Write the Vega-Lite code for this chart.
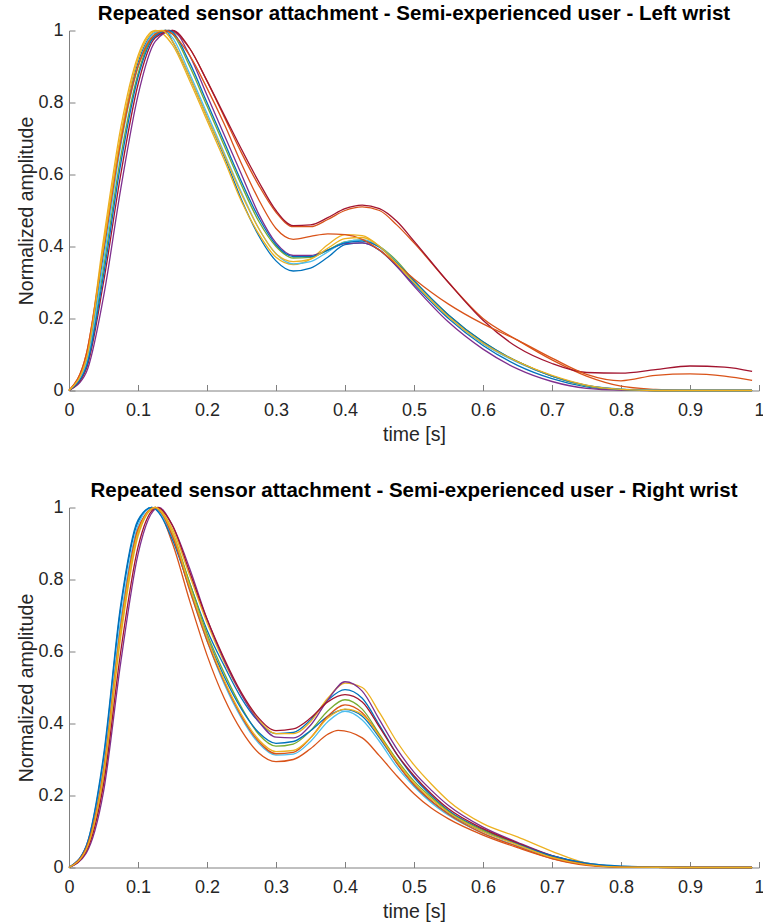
{
"$schema":"https://vega.github.io/schema/vega-lite/v6.json",
"background":"white",
"padding":{"left":16,"top":3.5,"right":0,"bottom":0},
"config":{
"view":{"stroke":null},
"axis":{"domainColor":"#808080","tickColor":"#808080","labelColor":"#262626","titleColor":"#262626","labelFont":"Liberation Sans","titleFont":"Liberation Sans","labelFontSize":18,"titleFontSize":19.5,"titleFontWeight":"normal","grid":false,"tickSize":-6,"domainWidth":1,"tickWidth":1,"labelFlush":false,"labelOverlap":false,"labelBound":false},
"title":{"font":"Liberation Sans","fontSize":20.5,"fontWeight":"bold","color":"#000000","anchor":"middle","frame":"group","baseline":"alphabetic","offset":-3},
"line":{"interpolate":"monotone","strokeWidth":1.3}
},
"datasets":{
"left":[
{"s":1,"t":0,"a":0},{"s":1,"t":0.025,"a":0.08},{"s":1,"t":0.05,"a":0.38},{"s":1,"t":0.075,"a":0.7},{"s":1,"t":0.1,"a":0.91},{"s":1,"t":0.125,"a":0.995},{"s":1,"t":0.14,"a":1},{"s":1,"t":0.15,"a":0.97},{"s":1,"t":0.175,"a":0.87},{"s":1,"t":0.2,"a":0.76},{"s":1,"t":0.225,"a":0.65},{"s":1,"t":0.25,"a":0.53},{"s":1,"t":0.275,"a":0.43},{"s":1,"t":0.3,"a":0.36},{"s":1,"t":0.325,"a":0.332},{"s":1,"t":0.35,"a":0.34},{"s":1,"t":0.375,"a":0.37},{"s":1,"t":0.4,"a":0.405},{"s":1,"t":0.425,"a":0.41},{"s":1,"t":0.45,"a":0.39},{"s":1,"t":0.475,"a":0.345},{"s":1,"t":0.5,"a":0.295},{"s":1,"t":0.55,"a":0.2},{"s":1,"t":0.6,"a":0.125},{"s":1,"t":0.65,"a":0.07},{"s":1,"t":0.7,"a":0.033},{"s":1,"t":0.75,"a":0.01},{"s":1,"t":0.8,"a":0.002},{"s":1,"t":0.85,"a":0},{"s":1,"t":0.9,"a":0},{"s":1,"t":0.95,"a":0},{"s":1,"t":0.99,"a":0},
{"s":2,"t":0,"a":0},{"s":2,"t":0.025,"a":0.1},{"s":2,"t":0.05,"a":0.4},{"s":2,"t":0.075,"a":0.7},{"s":2,"t":0.1,"a":0.9},{"s":2,"t":0.125,"a":0.985},{"s":2,"t":0.145,"a":1},{"s":2,"t":0.175,"a":0.95},{"s":2,"t":0.2,"a":0.86},{"s":2,"t":0.225,"a":0.76},{"s":2,"t":0.25,"a":0.66},{"s":2,"t":0.275,"a":0.57},{"s":2,"t":0.3,"a":0.495},{"s":2,"t":0.325,"a":0.455},{"s":2,"t":0.35,"a":0.455},{"s":2,"t":0.375,"a":0.475},{"s":2,"t":0.4,"a":0.5},{"s":2,"t":0.425,"a":0.51},{"s":2,"t":0.45,"a":0.5},{"s":2,"t":0.475,"a":0.46},{"s":2,"t":0.5,"a":0.41},{"s":2,"t":0.55,"a":0.3},{"s":2,"t":0.6,"a":0.2},{"s":2,"t":0.65,"a":0.14},{"s":2,"t":0.7,"a":0.085},{"s":2,"t":0.75,"a":0.04},{"s":2,"t":0.8,"a":0.012},{"s":2,"t":0.85,"a":0.003},{"s":2,"t":0.9,"a":0},{"s":2,"t":0.95,"a":0},{"s":2,"t":0.99,"a":0},
{"s":3,"t":0,"a":0},{"s":3,"t":0.025,"a":0.09},{"s":3,"t":0.05,"a":0.42},{"s":3,"t":0.075,"a":0.73},{"s":3,"t":0.1,"a":0.93},{"s":3,"t":0.125,"a":1},{"s":3,"t":0.15,"a":0.96},{"s":3,"t":0.175,"a":0.86},{"s":3,"t":0.2,"a":0.75},{"s":3,"t":0.225,"a":0.64},{"s":3,"t":0.25,"a":0.525},{"s":3,"t":0.275,"a":0.435},{"s":3,"t":0.3,"a":0.37},{"s":3,"t":0.325,"a":0.35},{"s":3,"t":0.35,"a":0.365},{"s":3,"t":0.375,"a":0.405},{"s":3,"t":0.4,"a":0.433},{"s":3,"t":0.425,"a":0.43},{"s":3,"t":0.45,"a":0.4},{"s":3,"t":0.475,"a":0.35},{"s":3,"t":0.5,"a":0.3},{"s":3,"t":0.55,"a":0.205},{"s":3,"t":0.6,"a":0.13},{"s":3,"t":0.65,"a":0.08},{"s":3,"t":0.7,"a":0.04},{"s":3,"t":0.75,"a":0.013},{"s":3,"t":0.8,"a":0.002},{"s":3,"t":0.85,"a":0},{"s":3,"t":0.9,"a":0},{"s":3,"t":0.95,"a":0},{"s":3,"t":0.99,"a":0},
{"s":4,"t":0,"a":0},{"s":4,"t":0.025,"a":0.05},{"s":4,"t":0.05,"a":0.26},{"s":4,"t":0.075,"a":0.56},{"s":4,"t":0.1,"a":0.82},{"s":4,"t":0.125,"a":0.97},{"s":4,"t":0.15,"a":1},{"s":4,"t":0.175,"a":0.93},{"s":4,"t":0.2,"a":0.82},{"s":4,"t":0.225,"a":0.71},{"s":4,"t":0.25,"a":0.6},{"s":4,"t":0.275,"a":0.49},{"s":4,"t":0.3,"a":0.41},{"s":4,"t":0.325,"a":0.375},{"s":4,"t":0.35,"a":0.375},{"s":4,"t":0.375,"a":0.39},{"s":4,"t":0.4,"a":0.408},{"s":4,"t":0.425,"a":0.41},{"s":4,"t":0.45,"a":0.39},{"s":4,"t":0.475,"a":0.345},{"s":4,"t":0.5,"a":0.29},{"s":4,"t":0.55,"a":0.19},{"s":4,"t":0.6,"a":0.115},{"s":4,"t":0.65,"a":0.06},{"s":4,"t":0.7,"a":0.025},{"s":4,"t":0.75,"a":0.006},{"s":4,"t":0.8,"a":0.001},{"s":4,"t":0.85,"a":0},{"s":4,"t":0.9,"a":0},{"s":4,"t":0.95,"a":0},{"s":4,"t":0.99,"a":0},
{"s":5,"t":0,"a":0},{"s":5,"t":0.025,"a":0.07},{"s":5,"t":0.05,"a":0.34},{"s":5,"t":0.075,"a":0.65},{"s":5,"t":0.1,"a":0.88},{"s":5,"t":0.125,"a":0.99},{"s":5,"t":0.14,"a":1},{"s":5,"t":0.15,"a":0.99},{"s":5,"t":0.175,"a":0.9},{"s":5,"t":0.2,"a":0.79},{"s":5,"t":0.225,"a":0.68},{"s":5,"t":0.25,"a":0.57},{"s":5,"t":0.275,"a":0.47},{"s":5,"t":0.3,"a":0.4},{"s":5,"t":0.325,"a":0.368},{"s":5,"t":0.35,"a":0.37},{"s":5,"t":0.375,"a":0.39},{"s":5,"t":0.4,"a":0.413},{"s":5,"t":0.425,"a":0.418},{"s":5,"t":0.45,"a":0.4},{"s":5,"t":0.475,"a":0.36},{"s":5,"t":0.5,"a":0.305},{"s":5,"t":0.55,"a":0.21},{"s":5,"t":0.6,"a":0.135},{"s":5,"t":0.65,"a":0.08},{"s":5,"t":0.7,"a":0.04},{"s":5,"t":0.75,"a":0.013},{"s":5,"t":0.8,"a":0.003},{"s":5,"t":0.85,"a":0},{"s":5,"t":0.9,"a":0},{"s":5,"t":0.95,"a":0},{"s":5,"t":0.99,"a":0},
{"s":6,"t":0,"a":0},{"s":6,"t":0.025,"a":0.075},{"s":6,"t":0.05,"a":0.36},{"s":6,"t":0.075,"a":0.68},{"s":6,"t":0.1,"a":0.9},{"s":6,"t":0.125,"a":0.995},{"s":6,"t":0.14,"a":1},{"s":6,"t":0.15,"a":0.98},{"s":6,"t":0.175,"a":0.88},{"s":6,"t":0.2,"a":0.77},{"s":6,"t":0.225,"a":0.66},{"s":6,"t":0.25,"a":0.55},{"s":6,"t":0.275,"a":0.45},{"s":6,"t":0.3,"a":0.38},{"s":6,"t":0.325,"a":0.352},{"s":6,"t":0.35,"a":0.358},{"s":6,"t":0.375,"a":0.385},{"s":6,"t":0.4,"a":0.412},{"s":6,"t":0.425,"a":0.418},{"s":6,"t":0.45,"a":0.4},{"s":6,"t":0.475,"a":0.355},{"s":6,"t":0.5,"a":0.3},{"s":6,"t":0.55,"a":0.205},{"s":6,"t":0.6,"a":0.13},{"s":6,"t":0.65,"a":0.078},{"s":6,"t":0.7,"a":0.04},{"s":6,"t":0.75,"a":0.014},{"s":6,"t":0.8,"a":0.004},{"s":6,"t":0.85,"a":0.001},{"s":6,"t":0.9,"a":0},{"s":6,"t":0.95,"a":0},{"s":6,"t":0.99,"a":0},
{"s":7,"t":0,"a":0},{"s":7,"t":0.025,"a":0.06},{"s":7,"t":0.05,"a":0.3},{"s":7,"t":0.075,"a":0.6},{"s":7,"t":0.1,"a":0.85},{"s":7,"t":0.125,"a":0.98},{"s":7,"t":0.15,"a":1},{"s":7,"t":0.175,"a":0.95},{"s":7,"t":0.2,"a":0.86},{"s":7,"t":0.225,"a":0.765},{"s":7,"t":0.25,"a":0.67},{"s":7,"t":0.275,"a":0.58},{"s":7,"t":0.3,"a":0.5},{"s":7,"t":0.325,"a":0.458},{"s":7,"t":0.35,"a":0.46},{"s":7,"t":0.375,"a":0.48},{"s":7,"t":0.4,"a":0.505},{"s":7,"t":0.425,"a":0.515},{"s":7,"t":0.45,"a":0.505},{"s":7,"t":0.475,"a":0.47},{"s":7,"t":0.5,"a":0.415},{"s":7,"t":0.55,"a":0.3},{"s":7,"t":0.6,"a":0.195},{"s":7,"t":0.65,"a":0.12},{"s":7,"t":0.7,"a":0.075},{"s":7,"t":0.75,"a":0.05},{"s":7,"t":0.8,"a":0.048},{"s":7,"t":0.85,"a":0.058},{"s":7,"t":0.9,"a":0.068},{"s":7,"t":0.95,"a":0.065},{"s":7,"t":0.99,"a":0.053},
{"s":8,"t":0,"a":0},{"s":8,"t":0.025,"a":0.065},{"s":8,"t":0.05,"a":0.32},{"s":8,"t":0.075,"a":0.63},{"s":8,"t":0.1,"a":0.87},{"s":8,"t":0.125,"a":0.985},{"s":8,"t":0.145,"a":1},{"s":8,"t":0.175,"a":0.91},{"s":8,"t":0.2,"a":0.8},{"s":8,"t":0.225,"a":0.69},{"s":8,"t":0.25,"a":0.58},{"s":8,"t":0.275,"a":0.48},{"s":8,"t":0.3,"a":0.405},{"s":8,"t":0.325,"a":0.372},{"s":8,"t":0.35,"a":0.372},{"s":8,"t":0.375,"a":0.39},{"s":8,"t":0.4,"a":0.41},{"s":8,"t":0.425,"a":0.415},{"s":8,"t":0.45,"a":0.398},{"s":8,"t":0.475,"a":0.355},{"s":8,"t":0.5,"a":0.305},{"s":8,"t":0.55,"a":0.21},{"s":8,"t":0.6,"a":0.135},{"s":8,"t":0.65,"a":0.08},{"s":8,"t":0.7,"a":0.04},{"s":8,"t":0.75,"a":0.014},{"s":8,"t":0.8,"a":0.003},{"s":8,"t":0.85,"a":0},{"s":8,"t":0.9,"a":0},{"s":8,"t":0.95,"a":0},{"s":8,"t":0.99,"a":0},
{"s":9,"t":0,"a":0},{"s":9,"t":0.025,"a":0.1},{"s":9,"t":0.05,"a":0.39},{"s":9,"t":0.075,"a":0.69},{"s":9,"t":0.1,"a":0.9},{"s":9,"t":0.125,"a":0.99},{"s":9,"t":0.14,"a":1},{"s":9,"t":0.15,"a":0.99},{"s":9,"t":0.175,"a":0.93},{"s":9,"t":0.2,"a":0.84},{"s":9,"t":0.225,"a":0.74},{"s":9,"t":0.25,"a":0.63},{"s":9,"t":0.275,"a":0.53},{"s":9,"t":0.3,"a":0.45},{"s":9,"t":0.325,"a":0.42},{"s":9,"t":0.35,"a":0.428},{"s":9,"t":0.375,"a":0.435},{"s":9,"t":0.4,"a":0.433},{"s":9,"t":0.425,"a":0.42},{"s":9,"t":0.45,"a":0.39},{"s":9,"t":0.475,"a":0.35},{"s":9,"t":0.5,"a":0.31},{"s":9,"t":0.55,"a":0.24},{"s":9,"t":0.6,"a":0.185},{"s":9,"t":0.65,"a":0.14},{"s":9,"t":0.7,"a":0.09},{"s":9,"t":0.75,"a":0.045},{"s":9,"t":0.8,"a":0.027},{"s":9,"t":0.85,"a":0.042},{"s":9,"t":0.9,"a":0.046},{"s":9,"t":0.95,"a":0.04},{"s":9,"t":0.99,"a":0.028},
{"s":10,"t":0,"a":0},{"s":10,"t":0.025,"a":0.085},{"s":10,"t":0.05,"a":0.4},{"s":10,"t":0.075,"a":0.71},{"s":10,"t":0.1,"a":0.92},{"s":10,"t":0.125,"a":0.998},{"s":10,"t":0.135,"a":1},{"s":10,"t":0.15,"a":0.97},{"s":10,"t":0.175,"a":0.87},{"s":10,"t":0.2,"a":0.76},{"s":10,"t":0.225,"a":0.655},{"s":10,"t":0.25,"a":0.545},{"s":10,"t":0.275,"a":0.45},{"s":10,"t":0.3,"a":0.38},{"s":10,"t":0.325,"a":0.358},{"s":10,"t":0.35,"a":0.365},{"s":10,"t":0.375,"a":0.395},{"s":10,"t":0.4,"a":0.422},{"s":10,"t":0.425,"a":0.425},{"s":10,"t":0.45,"a":0.4},{"s":10,"t":0.475,"a":0.352},{"s":10,"t":0.5,"a":0.3},{"s":10,"t":0.55,"a":0.205},{"s":10,"t":0.6,"a":0.132},{"s":10,"t":0.65,"a":0.08},{"s":10,"t":0.7,"a":0.042},{"s":10,"t":0.75,"a":0.015},{"s":10,"t":0.8,"a":0.003},{"s":10,"t":0.85,"a":0},{"s":10,"t":0.9,"a":0},{"s":10,"t":0.95,"a":0},{"s":10,"t":0.99,"a":0}
],
"right":[
{"s":1,"t":0,"a":0},{"s":1,"t":0.025,"a":0.06},{"s":1,"t":0.05,"a":0.3},{"s":1,"t":0.075,"a":0.72},{"s":1,"t":0.1,"a":0.96},{"s":1,"t":0.12,"a":1},{"s":1,"t":0.15,"a":0.92},{"s":1,"t":0.175,"a":0.79},{"s":1,"t":0.2,"a":0.66},{"s":1,"t":0.225,"a":0.56},{"s":1,"t":0.25,"a":0.47},{"s":1,"t":0.275,"a":0.405},{"s":1,"t":0.3,"a":0.372},{"s":1,"t":0.325,"a":0.375},{"s":1,"t":0.35,"a":0.41},{"s":1,"t":0.375,"a":0.465},{"s":1,"t":0.4,"a":0.494},{"s":1,"t":0.425,"a":0.47},{"s":1,"t":0.45,"a":0.395},{"s":1,"t":0.475,"a":0.315},{"s":1,"t":0.5,"a":0.25},{"s":1,"t":0.525,"a":0.2},{"s":1,"t":0.55,"a":0.158},{"s":1,"t":0.6,"a":0.105},{"s":1,"t":0.65,"a":0.067},{"s":1,"t":0.7,"a":0.033},{"s":1,"t":0.75,"a":0.012},{"s":1,"t":0.8,"a":0.003},{"s":1,"t":0.9,"a":0},{"s":1,"t":0.99,"a":0},
{"s":2,"t":0,"a":0},{"s":2,"t":0.025,"a":0.055},{"s":2,"t":0.05,"a":0.27},{"s":2,"t":0.075,"a":0.67},{"s":2,"t":0.1,"a":0.94},{"s":2,"t":0.125,"a":1},{"s":2,"t":0.15,"a":0.9},{"s":2,"t":0.175,"a":0.74},{"s":2,"t":0.2,"a":0.59},{"s":2,"t":0.225,"a":0.47},{"s":2,"t":0.25,"a":0.38},{"s":2,"t":0.275,"a":0.318},{"s":2,"t":0.3,"a":0.294},{"s":2,"t":0.325,"a":0.3},{"s":2,"t":0.35,"a":0.33},{"s":2,"t":0.375,"a":0.37},{"s":2,"t":0.39,"a":0.381},{"s":2,"t":0.425,"a":0.36},{"s":2,"t":0.45,"a":0.31},{"s":2,"t":0.475,"a":0.255},{"s":2,"t":0.5,"a":0.205},{"s":2,"t":0.525,"a":0.165},{"s":2,"t":0.55,"a":0.135},{"s":2,"t":0.6,"a":0.09},{"s":2,"t":0.65,"a":0.055},{"s":2,"t":0.7,"a":0.025},{"s":2,"t":0.75,"a":0.008},{"s":2,"t":0.8,"a":0.001},{"s":2,"t":0.9,"a":0},{"s":2,"t":0.99,"a":0},
{"s":3,"t":0,"a":0},{"s":3,"t":0.025,"a":0.05},{"s":3,"t":0.05,"a":0.25},{"s":3,"t":0.075,"a":0.64},{"s":3,"t":0.1,"a":0.92},{"s":3,"t":0.125,"a":1},{"s":3,"t":0.15,"a":0.94},{"s":3,"t":0.175,"a":0.81},{"s":3,"t":0.2,"a":0.68},{"s":3,"t":0.225,"a":0.57},{"s":3,"t":0.25,"a":0.48},{"s":3,"t":0.275,"a":0.41},{"s":3,"t":0.3,"a":0.372},{"s":3,"t":0.325,"a":0.372},{"s":3,"t":0.35,"a":0.405},{"s":3,"t":0.375,"a":0.47},{"s":3,"t":0.4,"a":0.512},{"s":3,"t":0.425,"a":0.5},{"s":3,"t":0.45,"a":0.43},{"s":3,"t":0.475,"a":0.35},{"s":3,"t":0.5,"a":0.285},{"s":3,"t":0.525,"a":0.232},{"s":3,"t":0.55,"a":0.185},{"s":3,"t":0.6,"a":0.122},{"s":3,"t":0.65,"a":0.085},{"s":3,"t":0.7,"a":0.045},{"s":3,"t":0.75,"a":0.012},{"s":3,"t":0.8,"a":0.002},{"s":3,"t":0.9,"a":0},{"s":3,"t":0.99,"a":0},
{"s":4,"t":0,"a":0},{"s":4,"t":0.025,"a":0.04},{"s":4,"t":0.05,"a":0.21},{"s":4,"t":0.075,"a":0.57},{"s":4,"t":0.1,"a":0.87},{"s":4,"t":0.13,"a":1},{"s":4,"t":0.15,"a":0.95},{"s":4,"t":0.175,"a":0.83},{"s":4,"t":0.2,"a":0.69},{"s":4,"t":0.225,"a":0.575},{"s":4,"t":0.25,"a":0.48},{"s":4,"t":0.275,"a":0.405},{"s":4,"t":0.3,"a":0.362},{"s":4,"t":0.325,"a":0.36},{"s":4,"t":0.35,"a":0.395},{"s":4,"t":0.375,"a":0.465},{"s":4,"t":0.4,"a":0.516},{"s":4,"t":0.425,"a":0.49},{"s":4,"t":0.45,"a":0.41},{"s":4,"t":0.475,"a":0.33},{"s":4,"t":0.5,"a":0.265},{"s":4,"t":0.525,"a":0.215},{"s":4,"t":0.55,"a":0.172},{"s":4,"t":0.6,"a":0.112},{"s":4,"t":0.65,"a":0.07},{"s":4,"t":0.7,"a":0.033},{"s":4,"t":0.75,"a":0.01},{"s":4,"t":0.8,"a":0.002},{"s":4,"t":0.9,"a":0},{"s":4,"t":0.99,"a":0},
{"s":5,"t":0,"a":0},{"s":5,"t":0.025,"a":0.05},{"s":5,"t":0.05,"a":0.26},{"s":5,"t":0.075,"a":0.66},{"s":5,"t":0.1,"a":0.93},{"s":5,"t":0.125,"a":1},{"s":5,"t":0.15,"a":0.93},{"s":5,"t":0.175,"a":0.79},{"s":5,"t":0.2,"a":0.65},{"s":5,"t":0.225,"a":0.54},{"s":5,"t":0.25,"a":0.445},{"s":5,"t":0.275,"a":0.37},{"s":5,"t":0.3,"a":0.337},{"s":5,"t":0.325,"a":0.343},{"s":5,"t":0.35,"a":0.38},{"s":5,"t":0.375,"a":0.435},{"s":5,"t":0.4,"a":0.466},{"s":5,"t":0.425,"a":0.44},{"s":5,"t":0.45,"a":0.37},{"s":5,"t":0.475,"a":0.3},{"s":5,"t":0.5,"a":0.24},{"s":5,"t":0.525,"a":0.195},{"s":5,"t":0.55,"a":0.155},{"s":5,"t":0.6,"a":0.103},{"s":5,"t":0.65,"a":0.065},{"s":5,"t":0.7,"a":0.03},{"s":5,"t":0.75,"a":0.008},{"s":5,"t":0.8,"a":0.001},{"s":5,"t":0.9,"a":0},{"s":5,"t":0.99,"a":0},
{"s":6,"t":0,"a":0},{"s":6,"t":0.025,"a":0.055},{"s":6,"t":0.05,"a":0.28},{"s":6,"t":0.075,"a":0.69},{"s":6,"t":0.1,"a":0.95},{"s":6,"t":0.12,"a":1},{"s":6,"t":0.15,"a":0.92},{"s":6,"t":0.175,"a":0.77},{"s":6,"t":0.2,"a":0.63},{"s":6,"t":0.225,"a":0.51},{"s":6,"t":0.25,"a":0.415},{"s":6,"t":0.275,"a":0.345},{"s":6,"t":0.3,"a":0.312},{"s":6,"t":0.325,"a":0.315},{"s":6,"t":0.35,"a":0.35},{"s":6,"t":0.375,"a":0.405},{"s":6,"t":0.4,"a":0.434},{"s":6,"t":0.425,"a":0.41},{"s":6,"t":0.45,"a":0.35},{"s":6,"t":0.475,"a":0.28},{"s":6,"t":0.5,"a":0.225},{"s":6,"t":0.525,"a":0.18},{"s":6,"t":0.55,"a":0.145},{"s":6,"t":0.6,"a":0.095},{"s":6,"t":0.65,"a":0.06},{"s":6,"t":0.7,"a":0.027},{"s":6,"t":0.75,"a":0.008},{"s":6,"t":0.8,"a":0.001},{"s":6,"t":0.9,"a":0},{"s":6,"t":0.99,"a":0},
{"s":7,"t":0,"a":0},{"s":7,"t":0.025,"a":0.045},{"s":7,"t":0.05,"a":0.23},{"s":7,"t":0.075,"a":0.6},{"s":7,"t":0.1,"a":0.89},{"s":7,"t":0.128,"a":1},{"s":7,"t":0.15,"a":0.95},{"s":7,"t":0.175,"a":0.82},{"s":7,"t":0.2,"a":0.69},{"s":7,"t":0.225,"a":0.58},{"s":7,"t":0.25,"a":0.485},{"s":7,"t":0.275,"a":0.415},{"s":7,"t":0.3,"a":0.38},{"s":7,"t":0.325,"a":0.385},{"s":7,"t":0.35,"a":0.415},{"s":7,"t":0.375,"a":0.46},{"s":7,"t":0.4,"a":0.48},{"s":7,"t":0.425,"a":0.46},{"s":7,"t":0.45,"a":0.39},{"s":7,"t":0.475,"a":0.315},{"s":7,"t":0.5,"a":0.255},{"s":7,"t":0.525,"a":0.205},{"s":7,"t":0.55,"a":0.163},{"s":7,"t":0.6,"a":0.108},{"s":7,"t":0.65,"a":0.068},{"s":7,"t":0.7,"a":0.032},{"s":7,"t":0.75,"a":0.009},{"s":7,"t":0.8,"a":0.002},{"s":7,"t":0.9,"a":0},{"s":7,"t":0.99,"a":0},
{"s":8,"t":0,"a":0},{"s":8,"t":0.025,"a":0.06},{"s":8,"t":0.05,"a":0.31},{"s":8,"t":0.075,"a":0.73},{"s":8,"t":0.1,"a":0.965},{"s":8,"t":0.12,"a":1},{"s":8,"t":0.15,"a":0.91},{"s":8,"t":0.175,"a":0.775},{"s":8,"t":0.2,"a":0.64},{"s":8,"t":0.225,"a":0.53},{"s":8,"t":0.25,"a":0.44},{"s":8,"t":0.275,"a":0.375},{"s":8,"t":0.3,"a":0.345},{"s":8,"t":0.325,"a":0.35},{"s":8,"t":0.35,"a":0.38},{"s":8,"t":0.375,"a":0.42},{"s":8,"t":0.4,"a":0.439},{"s":8,"t":0.425,"a":0.42},{"s":8,"t":0.45,"a":0.36},{"s":8,"t":0.475,"a":0.29},{"s":8,"t":0.5,"a":0.23},{"s":8,"t":0.525,"a":0.185},{"s":8,"t":0.55,"a":0.15},{"s":8,"t":0.6,"a":0.1},{"s":8,"t":0.65,"a":0.065},{"s":8,"t":0.7,"a":0.032},{"s":8,"t":0.75,"a":0.012},{"s":8,"t":0.8,"a":0.004},{"s":8,"t":0.9,"a":0},{"s":8,"t":0.99,"a":0},
{"s":9,"t":0,"a":0},{"s":9,"t":0.025,"a":0.055},{"s":9,"t":0.05,"a":0.27},{"s":9,"t":0.075,"a":0.67},{"s":9,"t":0.1,"a":0.94},{"s":9,"t":0.125,"a":1},{"s":9,"t":0.15,"a":0.92},{"s":9,"t":0.175,"a":0.77},{"s":9,"t":0.2,"a":0.63},{"s":9,"t":0.225,"a":0.515},{"s":9,"t":0.25,"a":0.42},{"s":9,"t":0.275,"a":0.35},{"s":9,"t":0.3,"a":0.316},{"s":9,"t":0.325,"a":0.32},{"s":9,"t":0.35,"a":0.36},{"s":9,"t":0.375,"a":0.42},{"s":9,"t":0.4,"a":0.452},{"s":9,"t":0.425,"a":0.43},{"s":9,"t":0.45,"a":0.365},{"s":9,"t":0.475,"a":0.29},{"s":9,"t":0.5,"a":0.23},{"s":9,"t":0.525,"a":0.185},{"s":9,"t":0.55,"a":0.148},{"s":9,"t":0.6,"a":0.095},{"s":9,"t":0.65,"a":0.058},{"s":9,"t":0.7,"a":0.025},{"s":9,"t":0.75,"a":0.006},{"s":9,"t":0.8,"a":0.001},{"s":9,"t":0.9,"a":0},{"s":9,"t":0.99,"a":0},
{"s":10,"t":0,"a":0},{"s":10,"t":0.025,"a":0.05},{"s":10,"t":0.05,"a":0.26},{"s":10,"t":0.075,"a":0.66},{"s":10,"t":0.1,"a":0.93},{"s":10,"t":0.125,"a":1},{"s":10,"t":0.15,"a":0.93},{"s":10,"t":0.175,"a":0.78},{"s":10,"t":0.2,"a":0.64},{"s":10,"t":0.225,"a":0.52},{"s":10,"t":0.25,"a":0.425},{"s":10,"t":0.275,"a":0.355},{"s":10,"t":0.3,"a":0.322},{"s":10,"t":0.325,"a":0.325},{"s":10,"t":0.35,"a":0.36},{"s":10,"t":0.375,"a":0.415},{"s":10,"t":0.4,"a":0.44},{"s":10,"t":0.425,"a":0.425},{"s":10,"t":0.45,"a":0.365},{"s":10,"t":0.475,"a":0.295},{"s":10,"t":0.5,"a":0.235},{"s":10,"t":0.525,"a":0.19},{"s":10,"t":0.55,"a":0.153},{"s":10,"t":0.6,"a":0.1},{"s":10,"t":0.65,"a":0.063},{"s":10,"t":0.7,"a":0.028},{"s":10,"t":0.75,"a":0.008},{"s":10,"t":0.8,"a":0.001},{"s":10,"t":0.9,"a":0},{"s":10,"t":0.99,"a":0}
]
},
"vconcat":[
{"title":"Repeated sensor attachment - Semi-experienced user - Left wrist","data":{"name":"left"},"width":690,"height":360,"mark":{"type":"line"},
"encoding":{
"x":{"field":"t","type":"quantitative","scale":{"domain":[0,1],"nice":false,"zero":false},"axis":{"title":"time [s]","values":[0,0.1,0.2,0.3,0.4,0.5,0.6,0.7,0.8,0.9,1],"format":"~g","labelPadding":16.5,"titlePadding":6.5}},
"y":{"field":"a","type":"quantitative","scale":{"domain":[0,1],"nice":false},"axis":{"title":"Normalized amplitude","values":[0,0.2,0.4,0.6,0.8,1],"format":"~g","labelPadding":12,"titlePadding":1}},
"color":{"field":"s","type":"nominal","legend":null,"scale":{"domain":[1,2,3,4,5,6,7,8,9,10],"range":["#0072BD","#D95319","#EDB120","#7E2F8E","#77AC30","#4DBEEE","#A2142F","#0072BD","#D95319","#EDB120"]}},
"order":{"field":"t","type":"quantitative"}
}},
{"title":"Repeated sensor attachment - Semi-experienced user - Right wrist","data":{"name":"right"},"width":690,"height":360,"mark":{"type":"line"},
"encoding":{
"x":{"field":"t","type":"quantitative","scale":{"domain":[0,1],"nice":false,"zero":false},"axis":{"title":"time [s]","values":[0,0.1,0.2,0.3,0.4,0.5,0.6,0.7,0.8,0.9,1],"format":"~g","labelPadding":16.5,"titlePadding":6.5}},
"y":{"field":"a","type":"quantitative","scale":{"domain":[0,1],"nice":false},"axis":{"title":"Normalized amplitude","values":[0,0.2,0.4,0.6,0.8,1],"format":"~g","labelPadding":12,"titlePadding":1}},
"color":{"field":"s","type":"nominal","legend":null,"scale":{"domain":[1,2,3,4,5,6,7,8,9,10],"range":["#0072BD","#D95319","#EDB120","#7E2F8E","#77AC30","#4DBEEE","#A2142F","#0072BD","#D95319","#EDB120"]}},
"order":{"field":"t","type":"quantitative"}
}}
],
"spacing":117,
"bounds":"flush",
"resolve":{"scale":{"color":"independent"}}
}
